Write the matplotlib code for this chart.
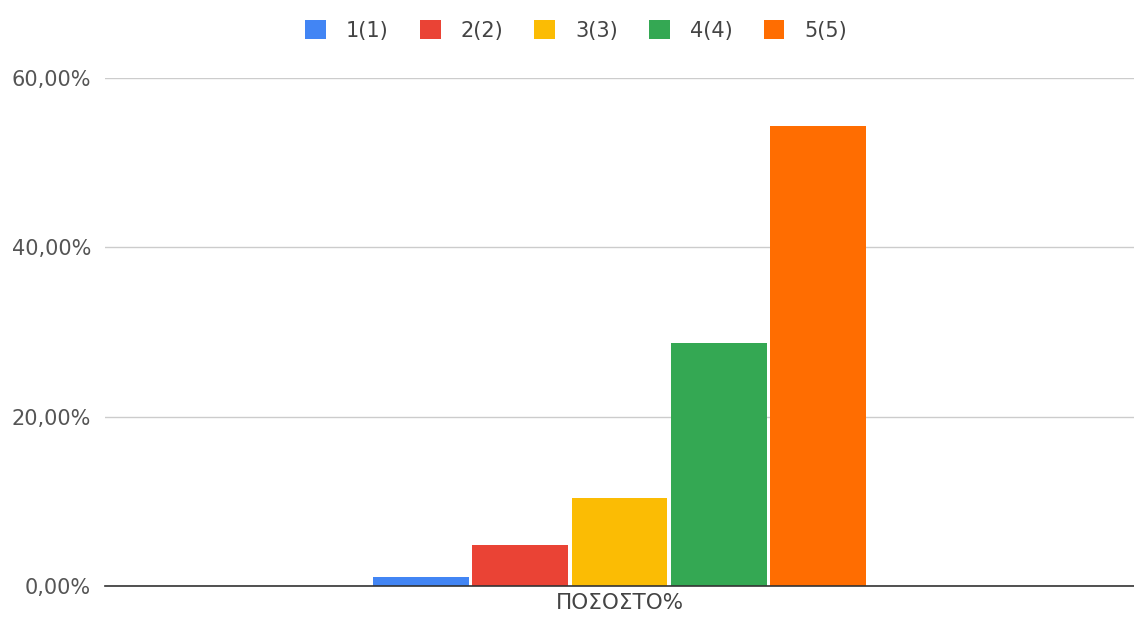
import numpy as np
import matplotlib
matplotlib.use("Agg")
import matplotlib.pyplot as plt
from matplotlib.ticker import FuncFormatter

plt.rcParams['font.family'] = ['DejaVu Sans']

# data
category = "ΠΟΣΟΣΤΟ%"
series = ["1(1)", "2(2)", "3(3)", "4(4)", "5(5)"]
values = [1.1, 4.8, 10.4, 28.7, 54.3]  # percent
colors = ["#4285f4", "#ea4335", "#fbbc04", "#34a853", "#ff6d01"]
yticks = [0, 20, 40, 60]

fig = plt.figure(figsize=(11.34, 6.18), dpi=100)
ax = fig.add_axes([0.0926, 0.052, 0.9074, 0.822])

step = 0.0966
width = 0.093
n = len(series)
offsets = (np.arange(n) - (n - 1) / 2) * step
for off, val, col, name in zip(offsets, values, colors, series):
    ax.bar(0 + off, val, width=width, color=col, label=name, zorder=3)

ax.set_xlim(-0.5, 0.5)
ax.set_ylim(0, 60)
ax.set_yticks(yticks)
ax.yaxis.set_major_formatter(FuncFormatter(lambda v, p: f"{v:.2f}%".replace(".", ",")))
ax.set_xticks([0])
ax.set_xticklabels([category])

ax.grid(axis="y", color="#cccccc", linewidth=1, zorder=0)
for s in ["top", "right", "left"]:
    ax.spines[s].set_visible(False)
ax.spines["bottom"].set_color("#333333")
ax.spines["bottom"].set_linewidth(1.2)
ax.spines["bottom"].set_zorder(4)
ax.tick_params(axis="y", length=0, labelsize=15, labelcolor="#555555", pad=10)
ax.tick_params(axis="x", length=0, labelsize=15.5, labelcolor="#444444", pad=5)

fig.legend(loc="center", bbox_to_anchor=(0.508, 0.951), ncol=n, frameon=False,
           fontsize=15, labelcolor="#444444", handlelength=1.0, handleheight=1.0,
           handletextpad=0.95, columnspacing=1.5)

fig.savefig("out.png", dpi=100, facecolor="white")
